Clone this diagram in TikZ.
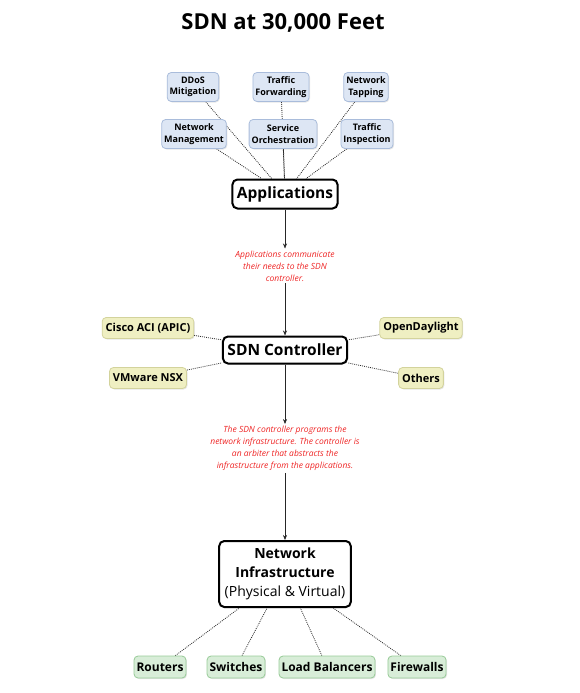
\documentclass[tikz,border=0pt]{standalone}
\usepackage{fontspec}
\setmainfont{Open Sans}
\usetikzlibrary{arrows.meta,shadows,backgrounds}

\definecolor{appfill}{HTML}{DDE6F4}
\definecolor{appline}{HTML}{A9BCDB}
\definecolor{ctlfill}{HTML}{EFEFC2}
\definecolor{ctlline}{HTML}{D3D39C}
\definecolor{devfill}{HTML}{D8EDD8}
\definecolor{devline}{HTML}{98CB98}
\definecolor{notered}{HTML}{EE2424}

\begin{document}
\begin{tikzpicture}[
  x=1pt,
  y=-1pt,
  box/.style={
    rounded corners=4pt,
    align=center,
    inner ysep=2pt,
    drop shadow={opacity=0.2, shadow xshift=1pt, shadow yshift=-1pt},
  },
  appbox/.style={
    box, draw=appline, fill=appfill, line width=0.8pt,
    inner xsep=2.5pt, minimum height=29pt,
    font=\fontsize{9}{11.5}\selectfont\bfseries,
  },
  ctlbox/.style={
    box, draw=ctlline, fill=ctlfill, line width=0.8pt,
    inner xsep=3.5pt, minimum height=21pt,
    font=\fontsize{11}{13}\selectfont\bfseries,
  },
  devbox/.style={
    box, draw=devline, fill=devfill, line width=0.8pt,
    inner xsep=2.5pt, minimum height=22pt,
    font=\fontsize{12}{14}\selectfont\bfseries,
  },
  mainbox/.style={
    box, draw=black, fill=white, line width=2pt,
    rounded corners=5pt, inner xsep=4.5pt,
  },
  note/.style={
    align=center, text=notered, inner sep=2pt,
    font=\fontsize{8.5}{12}\selectfont\itshape,
  },
  link/.style={line width=0.8pt, gray!35!black, dash pattern=on 0.9pt off 1.1pt},
  flow/.style={-{Stealth[length=5pt,width=4pt]}, line width=0.6pt, gray!30!black},
]
  \useasboundingbox (0,0) rectangle (580,693);

  \node[font=\fontsize{22}{26}\selectfont\bfseries] (title) at (283,23) {SDN at 30,000 Feet};

  % applications and what runs on them
  \node[mainbox, minimum height=29pt, font=\fontsize{15.5}{18}\selectfont\bfseries]
    (apps) at (285,194) {Applications};
  \foreach \name/\x/\y/\text in {
    ddos/193/87/{DDoS\\Mitigation},
    fwd/281/87/{Traffic\\Forwarding},
    tap/366/87/{Network\\Tapping},
    mgmt/194/134/{Network\\Management},
    orch/283/134/{Service\\Orchestration},
    insp/367/134/{Traffic\\Inspection}%
  } {
    \node[appbox] (\name) at (\x,\y) {\text};
  }

  % controller and its products
  \node[mainbox, minimum height=27pt, font=\fontsize{15.5}{18}\selectfont\bfseries]
    (ctrl) at (285,350) {SDN Controller};
  \foreach \name/\x/\y/\text in {
    cisco/148/328/{Cisco ACI (APIC)},
    odl/421/328/{OpenDaylight},
    nsx/148/378/{VMware NSX},
    others/421/378/{Others}%
  } {
    \node[ctlbox] (\name) at (\x,\y) {\text};
  }

  % infrastructure and its devices
  \node[mainbox, minimum height=66pt, inner xsep=5.5pt, font=\fontsize{14}{19}\selectfont]
    (infra) at (285,574) {\textbf{Network}\\\textbf{Infrastructure}\\(Physical \& Virtual)};
  \foreach \name/\x/\text in {
    routers/160/{Routers},
    switches/236/{Switches},
    lb/327/{Load Balancers},
    fw/417/{Firewalls}%
  } {
    \node[devbox] (\name) at (\x,667) {\text};
  }

  \node[note] (comm) at (285,266)
    {Applications communicate\\their needs to the SDN\\controller.};
  \node[note] (prog) at (285,448.5)
    {The SDN controller programs the\\network infrastructure. The controller is\\an arbiter that abstracts the\\infrastructure from the applications.};

  \begin{scope}[on background layer]
    \foreach \name in {ddos,fwd,tap,mgmt,orch,insp}
      \draw[link] (\name) -- (apps);
    \foreach \name in {cisco,odl,nsx,others}
      \draw[link] (\name) -- (ctrl);
    \foreach \name in {routers,switches,lb,fw}
      \draw[link] (\name) -- (infra);
  \end{scope}

  \draw[flow] (apps) -- (comm);
  \draw[flow] (comm) -- (ctrl);
  \draw[flow] (ctrl) -- (prog);
  \draw[flow] (prog) -- (infra);
\end{tikzpicture}
\end{document}
